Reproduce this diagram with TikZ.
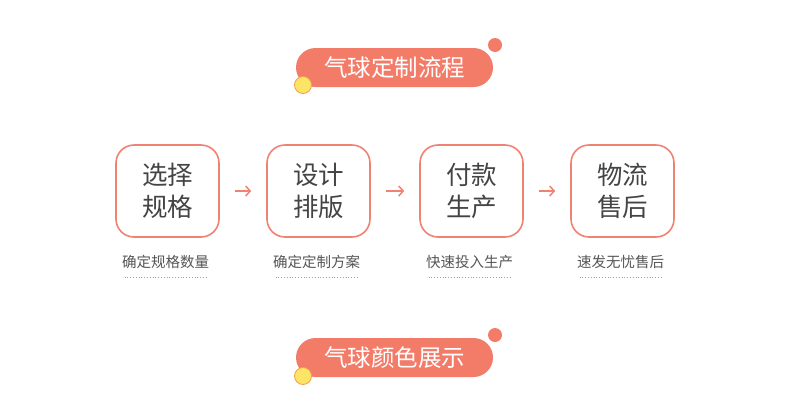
\documentclass[tikz,border=0pt]{standalone}
\usepackage{fontspec}
\setmainfont{Noto Sans CJK SC}
\usetikzlibrary{arrows.meta}
\definecolor{salmon}{HTML}{F37C69}
\definecolor{boxline}{HTML}{F08272}
\definecolor{ylw}{HTML}{FCE566}
\definecolor{ylwline}{HTML}{F59E4C}
\definecolor{txt}{HTML}{444444}
\definecolor{cap}{HTML}{555555}
\tikzset{
  pill/.style={fill=salmon, rounded corners=19.5pt, minimum width=197pt, minimum height=39pt, inner sep=0pt, text=white, font=\fontsize{23.5}{26}\selectfont},
  stepbox/.style={draw=boxline, line width=1.6pt, rounded corners=18pt, minimum width=103pt, minimum height=92pt, inner sep=0pt, align=center, text=txt, font=\fontsize{25.5}{32}\selectfont},
  captxt/.style={text=cap, font=\fontsize{14.5}{16}\selectfont, inner sep=0pt},
  dotline/.style={draw=boxline, line width=1pt, dash pattern=on 1pt off 1.8pt},
  flow/.style={draw=boxline, line width=1.5pt, -{Straight Barb[length=4.5pt,width=10pt]}},
  reddot/.style={fill=salmon, circle, minimum size=14pt, inner sep=0pt},
  ylwdot/.style={fill=ylw, draw=ylwline, line width=0.8pt, circle, minimum size=17pt, inner sep=0pt}
}
\begin{document}
\begin{tikzpicture}[x=1pt,y=-1pt]
\useasboundingbox (0,0) rectangle (790,400);
% title pills
\node[pill] (t1) at (394.5,67.5) {气球定制流程};
\node[reddot] (t1r) at (495,45) {};
\node[ylwdot] (t1y) at (303,85) {};
\node[pill] (t2) at (394.5,357.5) {气球颜色展示};
\node[reddot] (t2r) at (495,335) {};
\node[ylwdot] (t2y) at (303,376) {};
% steps
\node[stepbox] (b1) at (167.5,191) {选择\\规格};
\node[stepbox] (b2) at (318.5,191) {设计\\排版};
\node[stepbox] (b3) at (471.5,191) {付款\\生产};
\node[stepbox] (b4) at (622.5,191) {物流\\售后};
\draw[flow] ([xshift=15pt]b1.east) -- ([xshift=-15pt]b2.west);
\draw[flow] ([xshift=15pt]b2.east) -- ([xshift=-15pt]b3.west);
\draw[flow] ([xshift=15pt]b3.east) -- ([xshift=-15pt]b4.west);
% captions
\foreach \i/\t in {1/确定规格数量,2/确定定制方案,3/快速投入生产,4/速发无忧售后}{
  \node[captxt] (c\i) at ([xshift=-2pt,yshift=-71pt]b\i.center) {\t};
  \draw[dotline] ([xshift=-43pt,yshift=-86pt]b\i.center) -- ([xshift=40pt,yshift=-86pt]b\i.center);
}
\end{tikzpicture}
\end{document}
